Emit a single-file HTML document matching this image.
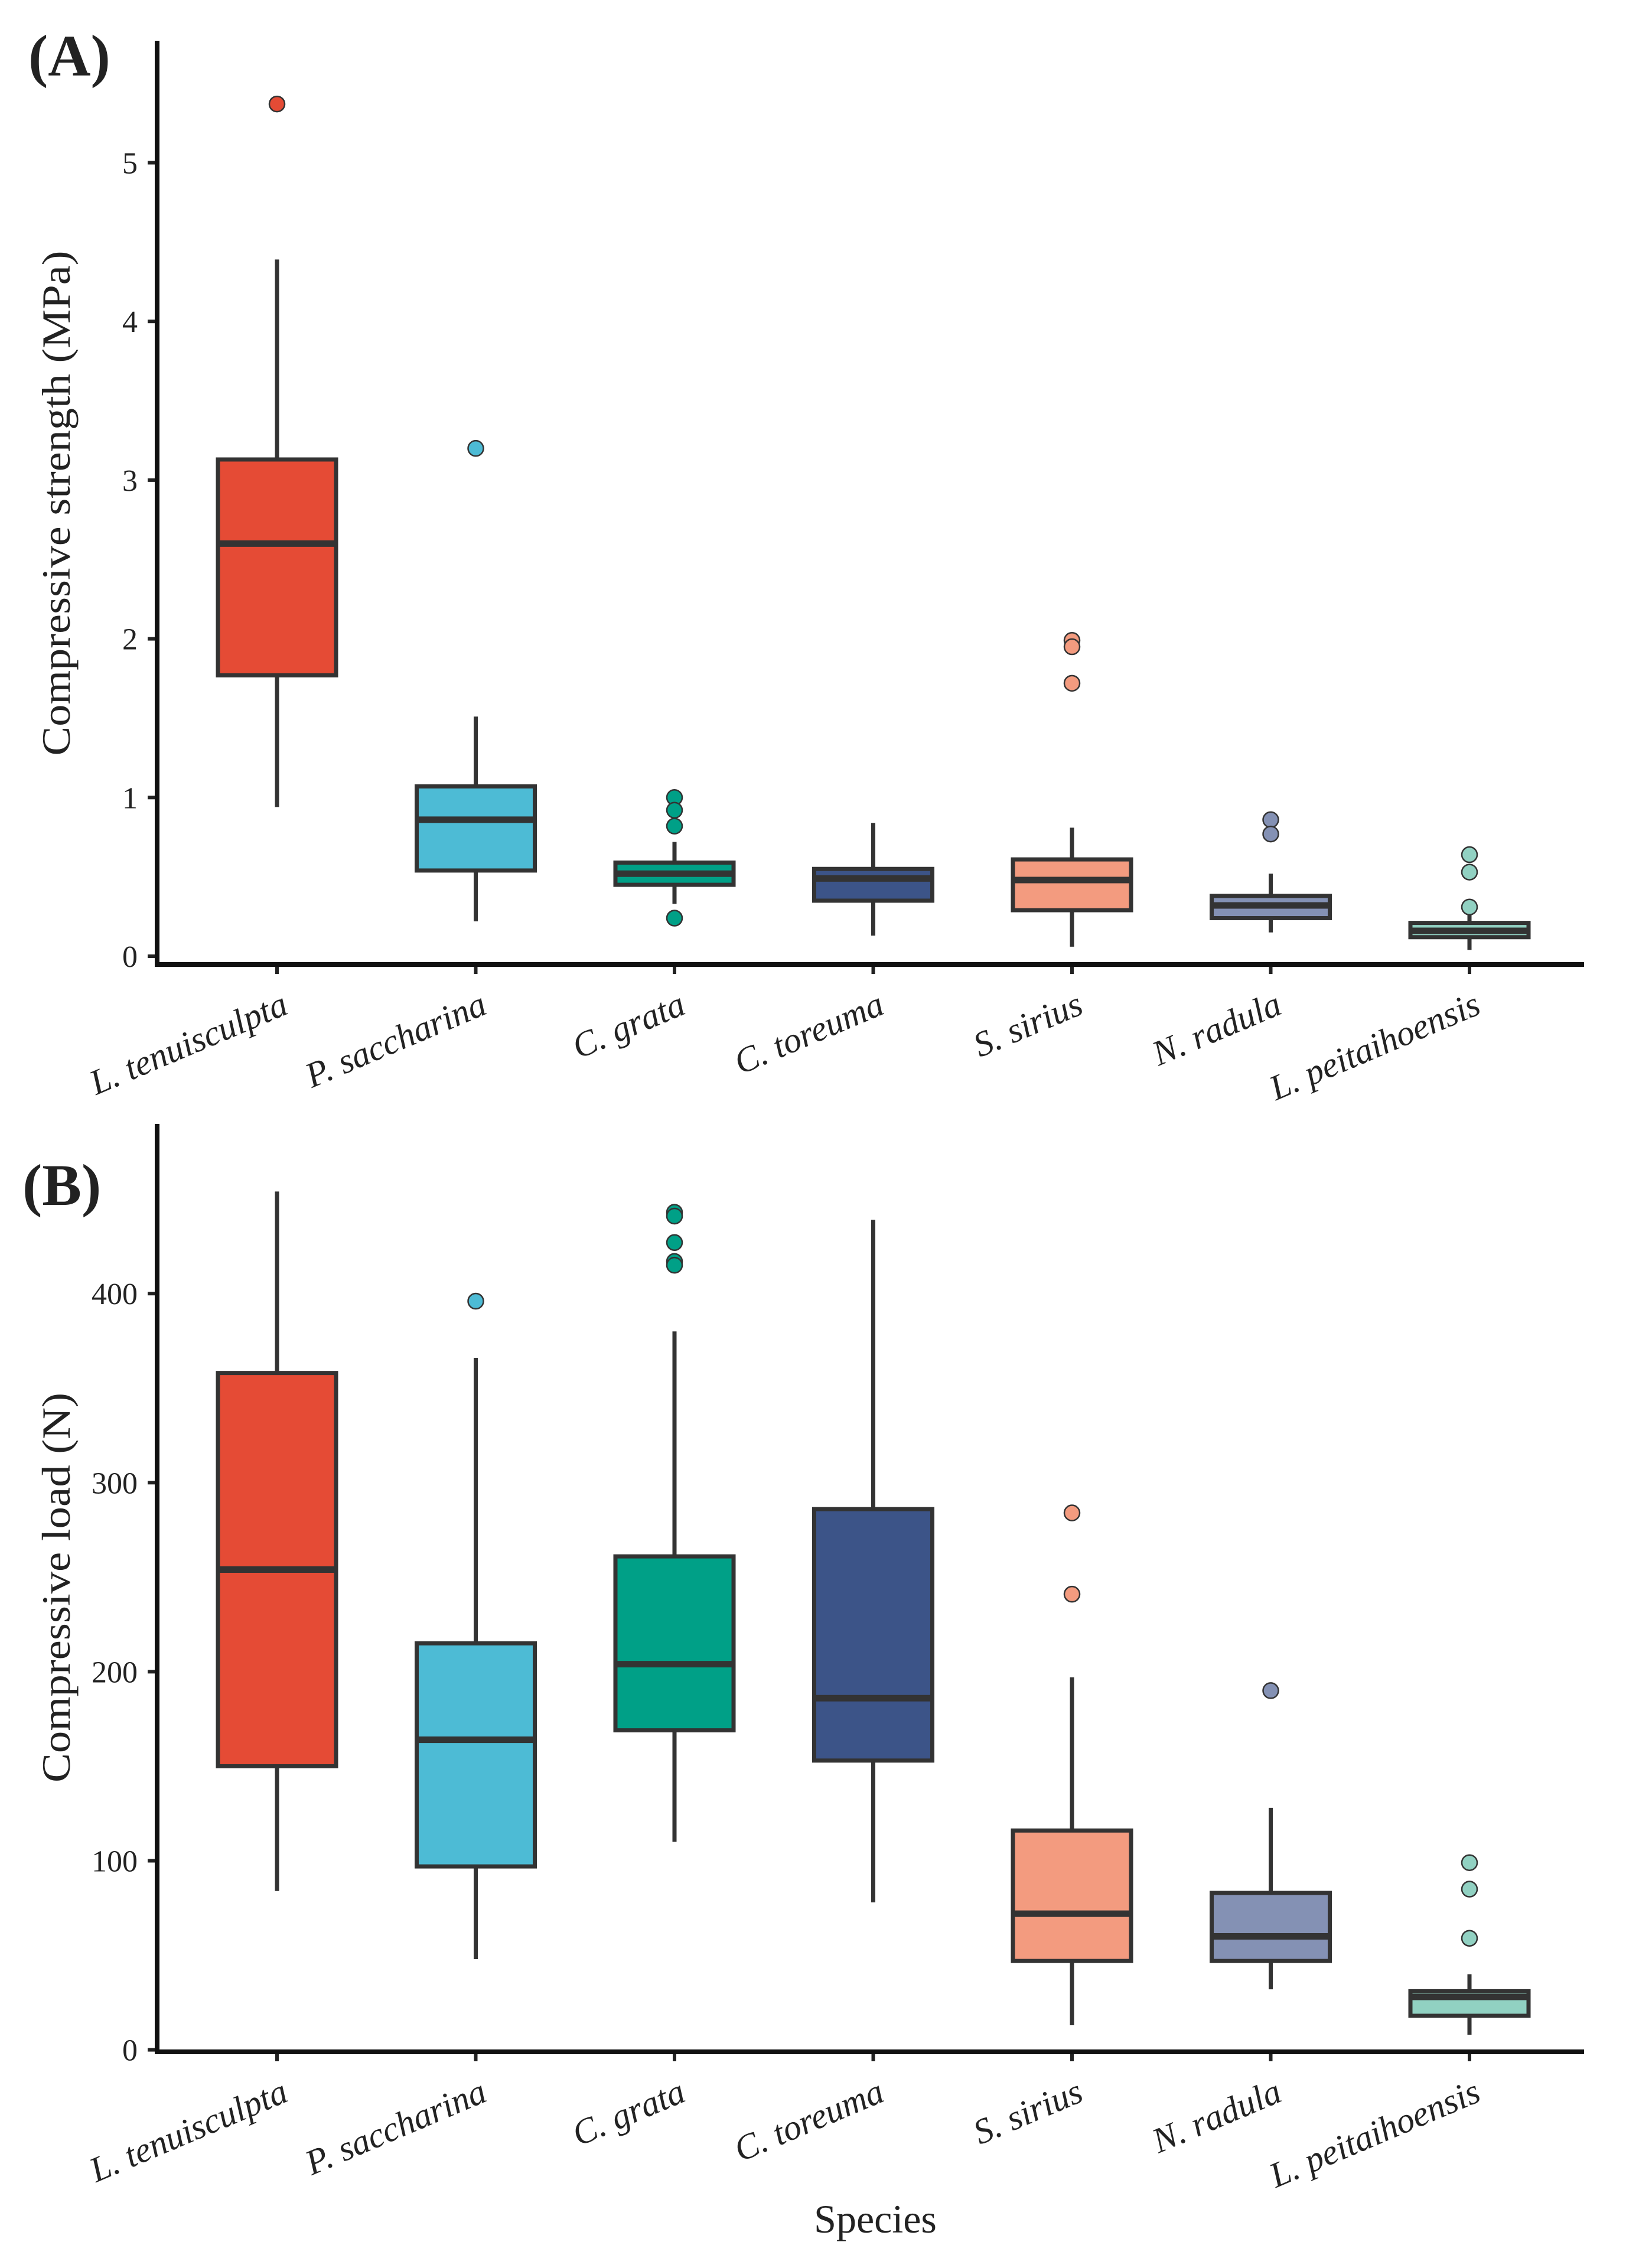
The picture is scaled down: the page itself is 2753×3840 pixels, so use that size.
<!DOCTYPE html>
<html><head><meta charset="utf-8"><style>
html,body{margin:0;padding:0;background:#fff}
svg{display:block}
text{font-family:"Liberation Serif",serif;fill:#222}
</style></head><body>
<svg id="chart" width="2753" height="3840" viewBox="0 0 2753 3840" xmlns="http://www.w3.org/2000/svg"></svg>
<script>
const categories=["L. tenuisculpta","P. saccharina","C. grata","C. toreuma","S. sirius","N. radula","L. peitaihoensis"];
const colors=["#E54B35","#4DBBD5","#00A087","#3C5488","#F39B7F","#8491B4","#91D1C2"];
// Panel A: compressive strength (MPa) [low, q1, median, q3, high]
const strengthStats=[[0.94,1.77,2.60,3.13,4.39],[0.22,0.54,0.86,1.07,1.51],[0.33,0.45,0.52,0.59,0.72],[0.13,0.35,0.49,0.55,0.84],[0.06,0.29,0.48,0.61,0.81],[0.15,0.24,0.32,0.38,0.52],[0.04,0.12,0.16,0.21,0.27]];
const strengthOutliers=[[5.37],[3.20],[1.0,0.92,0.82,0.24],[],[1.99,1.95,1.72],[0.86,0.77],[0.64,0.53,0.31]];
const strengthTicks=[0,1,2,3,4,5];
// Panel B: compressive load (N)
const loadStats=[[84,150,254,358,454],[48,97,164,215,366],[110,169,204,261,380],[78,153,186,286,439],[13,47,72,116,197],[32,47,60,83,128],[8,18,28,31,40]];
const loadOutliers=[[],[396],[443,441,427,417,415],[],[284,241],[190],[99,85,59]];
const loadTicks=[0,100,200,300,400];

const NS="http://www.w3.org/2000/svg";
const svg=document.getElementById('chart');
function mk(tag,attrs,parent){const e=document.createElementNS(NS,tag);for(const k in attrs)e.setAttribute(k,attrs[k]);(parent||svg).appendChild(e);return e;}
const xL=266,xR=2682;
function xScale(i){return 469+i*336.5;}

function panel(cfg){
  const g=mk('g',{});
  
  
  const y=v=>cfg.y0-v*cfg.k;
  const lab=mk('text',{x:cfg.lx,y:cfg.ly,'font-size':100,'font-weight':'bold'},g);
  lab.textContent=cfg.letter;
  
  
  const yt=mk('text',{x:0,y:0,'font-size':cfg.ytSize,'text-anchor':'middle',transform:`translate(${cfg.ytx},${cfg.yty}) rotate(-90)`,'textLength':cfg.ytLen,'lengthAdjust':'spacingAndGlyphs'},g);
  yt.textContent=cfg.ytitle;
  
  
  cfg.ticks.forEach(t=>{
    const ty=y(t);
    const tl=mk('line',{x1:250,x2:xL,y1:ty,y2:ty,stroke:'#222','stroke-width':6},g);
    
    
    const tx=mk('text',{x:233,y:ty+18,'font-size':52,'text-anchor':'end'},g);
    tx.textContent=t;
    
    
  });
  cfg.stats.forEach((s,i)=>{
    const cx=xScale(i),hw=100;
    const bg=mk('g',{},g);
    
    
    const w1=mk('line',{x1:cx,x2:cx,y1:y(s[0]),y2:y(s[1]),stroke:'#333','stroke-width':7},bg);
    
    
    const w2=mk('line',{x1:cx,x2:cx,y1:y(s[3]),y2:y(s[4]),stroke:'#333','stroke-width':7},bg);
    
    
    const r=mk('rect',{x:cx-hw,y:y(s[3]),width:2*hw,height:y(s[1])-y(s[3]),fill:colors[i],stroke:'#333','stroke-width':7},bg);
    
    
    const m=mk('line',{x1:cx-hw,x2:cx+hw,y1:y(s[2]),y2:y(s[2]),stroke:'#333','stroke-width':11},bg);
    
    
    cfg.outliers[i].forEach(o=>{
      const c=mk('circle',{cx:cx,cy:y(o),r:13,fill:colors[i],stroke:'#333','stroke-width':2.5},bg);
      
      
    });
    const xt=mk('line',{x1:cx,x2:cx,y1:cfg.axisY,y2:cfg.axisY+16,stroke:'#222','stroke-width':6},g);
    
    
    const xl=mk('text',{x:0,y:0,'font-size':60,'font-style':'italic','text-anchor':'end',transform:`translate(${cx+22},${cfg.axisY+82}) rotate(-23)`},g);
    xl.textContent=categories[i];
    
    
  });
  const ya=mk('line',{x1:xL,x2:xL,y1:cfg.top,y2:cfg.axisY+4,stroke:'#111','stroke-width':8},g);
  
  
  const xa=mk('line',{x1:xL-4,x2:xR,y1:cfg.axisY,y2:cfg.axisY,stroke:'#111','stroke-width':8},g);
  
  
}
panel({name:'panel-a-strength',letter:'(A)',lx:48,ly:128,ytitle:'Compressive strength (MPa)',ytx:118,yty:852,ytSize:68,ytLen:855,
  y0:1619,k:268.7,top:69,axisY:1633,ticks:strengthTicks,stats:strengthStats,outliers:strengthOutliers});
panel({name:'panel-b-load',letter:'(B)',lx:38,ly:2040,ytitle:'Compressive load (N)',ytx:118,yty:2688,ytSize:68,ytLen:660,
  y0:3470.6,k:3.201,top:1903,axisY:3474,ticks:loadTicks,stats:loadStats,outliers:loadOutliers});
const st=mk('text',{x:1482,y:3780,'font-size':68,'text-anchor':'middle'});
st.textContent='Species';


</script>
</body></html>
